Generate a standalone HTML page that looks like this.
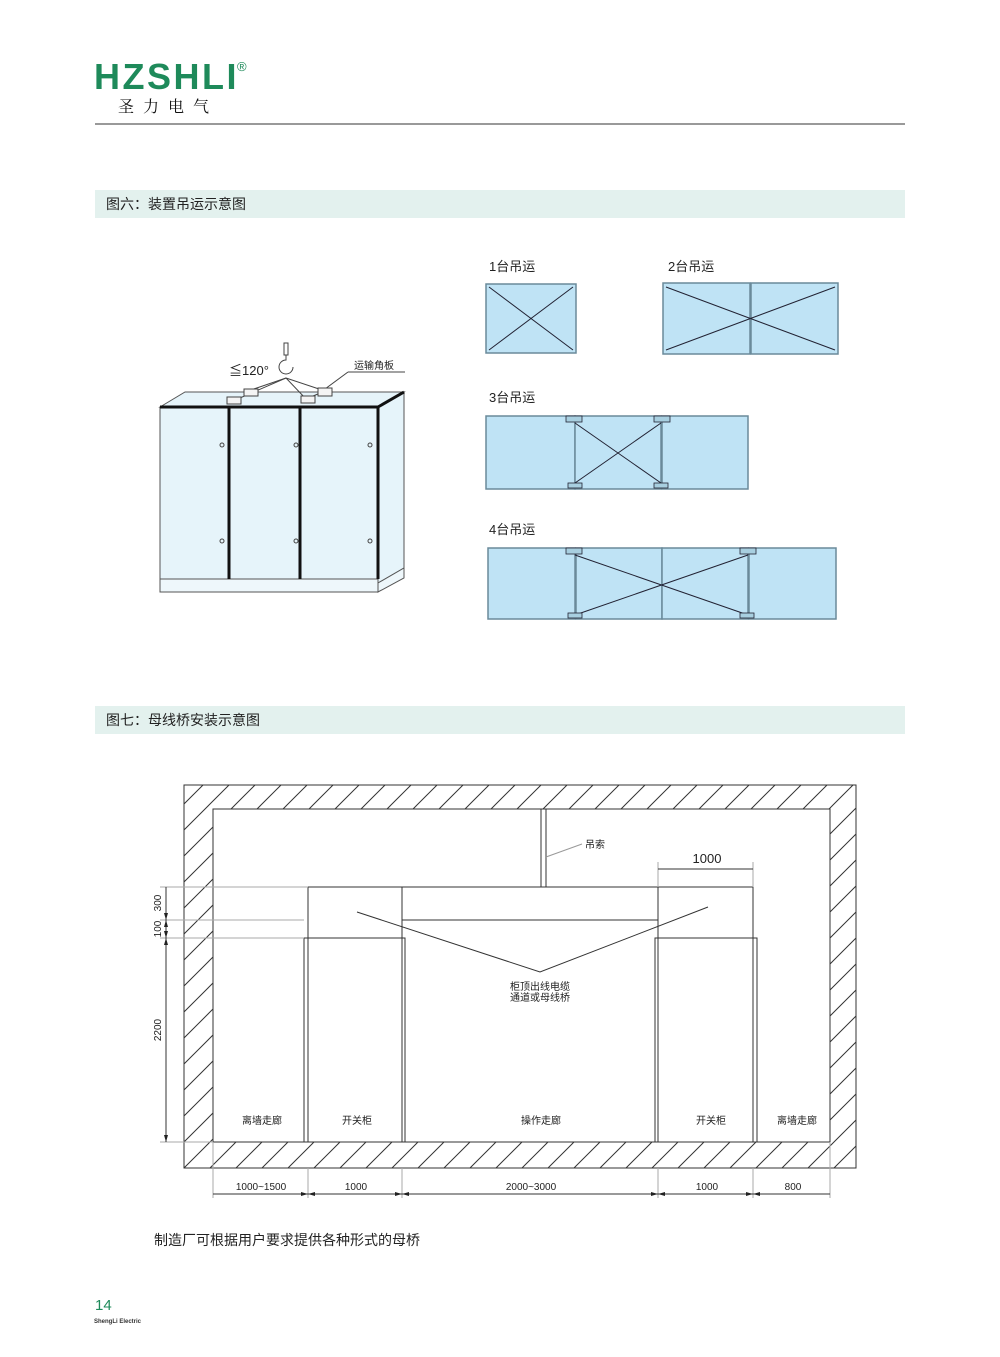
<!DOCTYPE html>
<html><head><meta charset="utf-8"><style>
body{margin:0;background:#fff;}
svg{display:block;font-family:"Liberation Sans","Noto Sans CJK SC",sans-serif;}
</style></head><body>
<svg width="1000" height="1357" viewBox="0 0 1000 1357" xmlns="http://www.w3.org/2000/svg">
<defs>
<pattern id="h" patternUnits="userSpaceOnUse" width="26" height="26">
<line x1="0" y1="26" x2="26" y2="0" stroke="#333" stroke-width="1"/>
<line x1="-13" y1="13" x2="13" y2="-13" stroke="#333" stroke-width="1"/>
<line x1="13" y1="39" x2="39" y2="13" stroke="#333" stroke-width="1"/>
</pattern>
</defs>
<!-- header -->
<text x="94" y="89" font-size="36" font-weight="bold" fill="#1e8a5a" letter-spacing="2.5">HZSHLI</text>
<text x="237" y="71" font-size="13" fill="#1e8a5a">®</text>
<text x="118" y="112" font-size="16" fill="#111" letter-spacing="9" font-family="Noto Serif CJK SC,serif">圣力电气</text>
<rect x="95" y="123" width="810" height="2" fill="#999"/>
<rect x="95" y="190" width="810" height="28" fill="#e3f1ee"/>
<text x="106" y="209" font-size="14" fill="#222">图六：装置吊运示意图</text>
<rect x="95" y="706" width="810" height="28" fill="#e3f1ee"/>
<text x="106" y="725" font-size="14" fill="#222">图七：母线桥安装示意图</text>

<!-- cabinet 3D -->
<g stroke="#555" stroke-width="1">
<polygon points="160,407 185,392 404,392 378,407" fill="#e6f4fa"/>
<polygon points="378,407 404,392 404,568 378,583" fill="#e6f4fa"/>
<polygon points="378,583 404,568 404,578 378,592" fill="#eef7fb"/>
<rect x="160" y="407" width="218" height="172" fill="#e6f4fa"/>
<rect x="160" y="579" width="218" height="13" fill="#eef7fb"/>
</g>
<line x1="160" y1="407" x2="378" y2="407" stroke="#111" stroke-width="3"/>
<line x1="378" y1="407" x2="404" y2="392" stroke="#111" stroke-width="3"/>
<g stroke="#111" stroke-width="3"><line x1="229" y1="407" x2="229" y2="579"/><line x1="300" y1="407" x2="300" y2="579"/><line x1="378" y1="407" x2="378" y2="579"/></g>
<g fill="none" stroke="#444" stroke-width="1">
<circle cx="222" cy="445" r="2"/><circle cx="296" cy="445" r="2"/><circle cx="370" cy="445" r="2"/>
<circle cx="222" cy="541" r="2"/><circle cx="296" cy="541" r="2"/><circle cx="370" cy="541" r="2"/>
<rect x="284" y="343" width="4" height="12"/>
<path d="M286,355 v5 a7,7 0 1 0 7,7"/>
<line x1="286" y1="378" x2="233" y2="401"/><line x1="286" y1="378" x2="245" y2="392"/>
<line x1="286" y1="378" x2="306" y2="399"/><line x1="286" y1="378" x2="325" y2="391"/>
<line x1="325" y1="391" x2="306" y2="399"/>
<line x1="325" y1="389" x2="348" y2="372"/><line x1="348" y1="372" x2="405" y2="372"/>
</g>
<g stroke="#444" fill="#f4f4f4"><rect x="227" y="397" width="14" height="7"/><rect x="244" y="389" width="14" height="7"/><rect x="301" y="396" width="14" height="7"/><rect x="318" y="388" width="14" height="8"/></g>
<text x="229" y="375" font-size="13" fill="#222">≦120°</text>
<text x="354" y="369" font-size="10" fill="#222">运输角板</text>

<!-- lifting plans -->
<g font-size="13" fill="#222"><text x="489" y="271">1台吊运</text><text x="668" y="271">2台吊运</text><text x="489" y="402">3台吊运</text><text x="489" y="534">4台吊运</text></g>
<g fill="#bfe3f5" stroke="#6a8a9a" stroke-width="1.5">
<rect x="486" y="284" width="90" height="69"/>
<rect x="663" y="283" width="87" height="71"/><rect x="751" y="283" width="87" height="71"/>
<rect x="486" y="416" width="89" height="73"/><rect x="575" y="416" width="86" height="73"/><rect x="662" y="416" width="86" height="73"/>
<rect x="488" y="548" width="87" height="71"/><rect x="576" y="548" width="86" height="71"/><rect x="662" y="548" width="86" height="71"/><rect x="749" y="548" width="87" height="71"/>
</g>
<g stroke="#223" stroke-width="1">
<line x1="489" y1="287" x2="573" y2="350"/><line x1="573" y1="287" x2="489" y2="350"/>
<line x1="666" y1="287" x2="835" y2="350"/><line x1="835" y1="287" x2="666" y2="350"/>
<line x1="575" y1="423" x2="661" y2="483"/><line x1="661" y1="423" x2="575" y2="483"/>
<line x1="575" y1="555" x2="748" y2="615"/><line x1="748" y1="555" x2="575" y2="615"/>
</g>
<g fill="#a8cfe0" stroke="#223" stroke-width="0.8">
<rect x="566" y="416" width="16" height="6"/><rect x="654" y="416" width="16" height="6"/><rect x="568" y="483" width="14" height="5"/><rect x="654" y="483" width="14" height="5"/>
<rect x="566" y="548" width="16" height="6"/><rect x="740" y="548" width="16" height="6"/><rect x="568" y="613" width="14" height="5"/><rect x="740" y="613" width="14" height="5"/>
</g>

<!-- bottom diagram -->
<rect x="184" y="785" width="672" height="383" fill="url(#h)" stroke="#333"/>
<rect x="213" y="809" width="617" height="333" fill="#fff" stroke="#333"/>
<g stroke="#333" stroke-width="1" fill="none">
<line x1="541" y1="809" x2="541" y2="887"/><line x1="546" y1="809" x2="546" y2="887"/>
<line x1="546" y1="857" x2="582" y2="844" stroke="#999"/>
<line x1="308" y1="887" x2="753" y2="887"/>
<line x1="308" y1="887" x2="308" y2="1142"/><line x1="402" y1="887" x2="402" y2="1142"/>
<line x1="658" y1="887" x2="658" y2="1142"/><line x1="753" y1="887" x2="753" y2="1142"/>
<line x1="402" y1="920" x2="658" y2="920"/>
<rect x="304" y="938" width="101" height="204"/>
<rect x="655" y="938" width="102" height="204"/>
<polyline points="357,912 540,972 708,907"/>
</g>
<g stroke="#aaa" stroke-width="1">
<line x1="160" y1="887" x2="308" y2="887"/><line x1="160" y1="920" x2="304" y2="920"/><line x1="160" y1="938" x2="304" y2="938"/><line x1="160" y1="1142" x2="213" y2="1142"/>
<line x1="213" y1="1142" x2="213" y2="1198"/><line x1="308" y1="1168" x2="308" y2="1198"/><line x1="402" y1="1168" x2="402" y2="1198"/><line x1="658" y1="1168" x2="658" y2="1198"/><line x1="753" y1="1168" x2="753" y2="1198"/><line x1="830" y1="1142" x2="830" y2="1198"/>
<line x1="658" y1="862" x2="658" y2="887"/><line x1="753" y1="862" x2="753" y2="887"/>
</g>
<g stroke="#333" stroke-width="1">
<line x1="166" y1="887" x2="166" y2="1142"/>
<line x1="213" y1="1194" x2="830" y2="1194"/>
<line x1="658" y1="869" x2="753" y2="869"/>
</g>
<g fill="#222">
<polygon points="166,1142 164,1135 168,1135"/><polygon points="166,938 164,931 168,931"/><polygon points="166,920 164,913 168,913"/><polygon points="166,920 164,927 168,927"/><polygon points="166,938 164,945 168,945"/>
<polygon points="308,1194 301,1192 301,1196"/><polygon points="308,1194 315,1192 315,1196"/><polygon points="402,1194 395,1192 395,1196"/><polygon points="402,1194 409,1192 409,1196"/><polygon points="658,1194 651,1192 651,1196"/><polygon points="658,1194 665,1192 665,1196"/><polygon points="753,1194 746,1192 746,1196"/><polygon points="753,1194 760,1192 760,1196"/>
</g>
<g font-size="10" fill="#222" text-anchor="middle">
<text x="595" y="848">吊索</text>
<text x="707" y="863" font-size="13">1000</text>
<text x="540" y="990">柜顶出线电缆</text><text x="540" y="1001">通道或母线桥</text>
<text x="262" y="1124">离墙走廊</text><text x="357" y="1124">开关柜</text><text x="541" y="1124">操作走廊</text><text x="711" y="1124">开关柜</text><text x="797" y="1124">离墙走廊</text>
<text x="261" y="1190">1000~1500</text><text x="356" y="1190">1000</text><text x="531" y="1190">2000~3000</text><text x="707" y="1190">1000</text><text x="793" y="1190">800</text>
<text transform="translate(161,903) rotate(-90)">300</text>
<text transform="translate(161,929) rotate(-90)">100</text>
<text transform="translate(161,1030) rotate(-90)">2200</text>
</g>
<text x="154" y="1245" font-size="14" fill="#222">制造厂可根据用户要求提供各种形式的母桥</text>
<text x="95" y="1310" font-size="15" fill="#1e8a5a">14</text>
<text x="94" y="1323" font-size="6" font-weight="bold" fill="#333">ShengLi Electric</text>
</svg>
</body></html>
